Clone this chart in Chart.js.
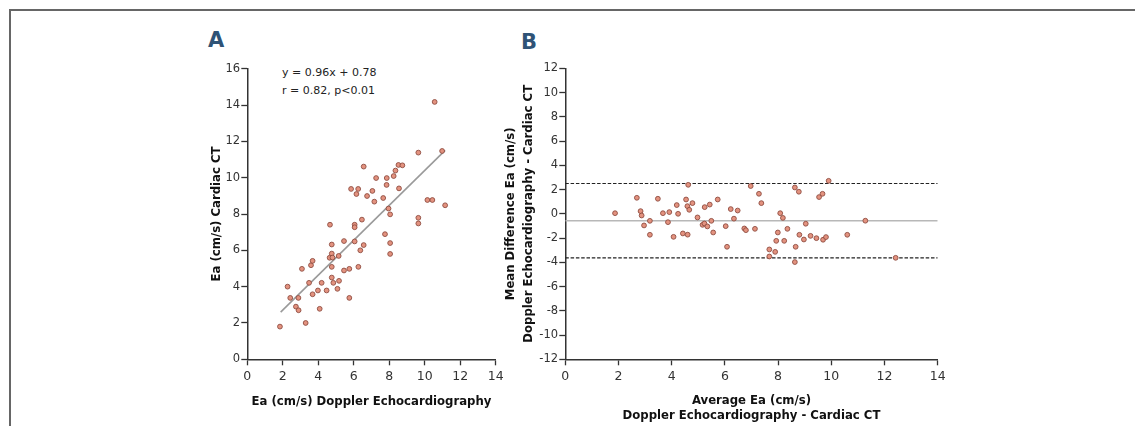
<!DOCTYPE html>
<html>
<head>
<meta charset="utf-8">
<script src="https://cdn.jsdelivr.net/npm/chart.js@4.4.1/dist/chart.umd.min.js"></script>
<style>
  html, body { margin: 0; padding: 0; background: #fff; }
  body { width: 1135px; height: 426px; position: relative; overflow: hidden; font-family: "DejaVu Sans", sans-serif; }
  .frame { position: absolute; left: 9px; top: 9px; right: -4px; bottom: -4px; border-top: 2px solid #666; border-left: 2px solid #666; }
  .panel-label { position: absolute; font-weight: bold; font-size: 21px; line-height: 1; color: #2f5376; }
  .stats { position: absolute; font-size: 11px; line-height: 18.3px; color: #222; white-space: nowrap; }
  .wrap { position: absolute; top: 0; height: 426px; }
</style>
</head>
<body>
<div class="frame"></div>
<div class="panel-label" style="left:208px; top:30px">A</div>
<div class="panel-label" style="left:521px; top:32px">B</div>
<div class="stats" style="left:282px; top:63.5px">y = 0.96x + 0.78<br>r = 0.82, p&lt;0.01</div>
<div class="wrap" style="left:180px; width:330px"><canvas id="chartA" width="330" height="426"></canvas></div>
<div class="wrap" style="left:490px; width:460px"><canvas id="chartB" width="460" height="426"></canvas></div>

<script>
// Panel A: Ea by Doppler echo (x) against Ea by cardiac CT (y)
const echoEa = [1.84, 2.27, 2.42, 2.88, 2.74, 2.89, 3.08, 3.29, 3.48, 3.59, 3.68, 3.68, 3.98, 4.08, 4.19, 4.47,
  4.66, 4.64, 4.76, 4.76, 4.80, 4.76, 4.76, 4.85, 5.08, 5.17, 5.15, 5.45, 5.45, 5.75, 5.75, 6.05, 6.05, 6.05,
  6.26, 6.37, 6.46, 6.56, 7.16, 7.76, 7.96, 8.05, 8.05, 8.05, 9.64, 9.64, 10.15, 10.43, 11.15, 10.56, 9.64,
  10.98, 6.56, 8.52, 8.74, 8.35, 7.26, 7.86, 8.25, 5.85, 6.25, 6.15, 6.75, 7.05, 7.66, 7.85, 8.55];
const ctEa = [1.80, 4.00, 3.38, 3.38, 2.90, 2.70, 4.98, 2.00, 4.21, 5.18, 5.42, 3.58, 3.79, 2.78, 4.21, 3.79,
  7.41, 5.59, 6.32, 5.82, 5.60, 5.09, 4.50, 4.21, 3.88, 4.32, 5.69, 6.51, 4.89, 4.98, 3.38, 7.41, 7.27, 6.49,
  5.09, 6.00, 7.69, 6.29, 8.68, 6.89, 8.30, 7.98, 6.40, 5.80, 7.79, 7.48, 8.77, 8.77, 8.48, 14.17, 11.38,
  11.47, 10.61, 10.70, 10.68, 10.39, 9.98, 9.98, 10.09, 9.38, 9.38, 9.10, 8.99, 9.27, 8.88, 9.60, 9.41];
// regression line ends
const fitX = [1.88, 11.15];
const fitY = [2.6, 11.5];

// Panel B: Bland-Altman, average vs difference
const avgEa = [1.87, 2.69, 2.83, 2.87, 2.96, 3.18, 3.18, 3.48, 3.67, 3.86, 3.91, 4.07, 4.19, 4.24, 4.42, 4.54,
  4.59, 4.62, 4.66, 4.60, 4.78, 4.97, 5.16, 5.23, 5.24, 5.34, 5.43, 5.49, 5.56, 5.73, 6.03, 6.08, 6.22, 6.34,
  6.48, 6.73, 6.79, 6.97, 7.13, 7.28, 7.37, 7.67, 7.67, 7.89, 7.93, 7.99, 8.08, 8.18, 8.23, 8.35, 8.63, 8.78,
  8.63, 8.66, 8.80, 8.97, 9.04, 9.22, 9.44, 9.54, 9.67, 9.69, 9.80, 9.90, 10.60, 11.28, 12.42];
const diffEa = [0.05, 1.32, 0.22, -0.14, -0.96, -0.58, -1.73, 1.24, 0.05, -0.69, 0.14, -1.90, 0.72, 0.00, -1.62,
  1.18, 0.63, 2.39, 0.33, -1.72, 0.88, -0.30, -0.91, -0.80, 0.55, -1.04, 0.76, -0.58, -1.54, 1.18, -1.02, -2.72,
  0.39, -0.40, 0.27, -1.21, -1.35, 2.29, -1.24, 1.65, 0.88, -2.94, -3.52, -3.14, -2.23, -1.54, 0.05, -0.34,
  -2.23, -1.24, 2.17, 1.82, -3.98, -2.72, -1.73, -2.12, -0.82, -1.82, -2.01, 1.38, 1.65, -2.14, -1.92, 2.72,
  -1.73, -0.57, -3.63];
const meanDiff = -0.57;
const upperLimit = 2.5;
const lowerLimit = -3.63;
const limitSpan = [0, 14];

const xTicks = [0, 2, 4, 6, 8, 10, 12, 14];
const yTicksA = [0, 2, 4, 6, 8, 10, 12, 14, 16];
const yTicksB = [-12, -10, -8, -6, -4, -2, 0, 2, 4, 6, 8, 10, 12];

const FONT = '"DejaVu Sans", sans-serif';
const AXIS = '#333';

function pts(xs, ys) {
  return xs.map((x, i) => ({ x: x, y: ys[i] }));
}

function hline(y) {
  return limitSpan.map(x => ({ x: x, y: y }));
}

function dotSet(data) {
  return {
    type: 'scatter', data: data,
    pointRadius: 2.4, pointBorderWidth: 0.9,
    pointBackgroundColor: '#e3927f', pointBorderColor: '#8e4c40'
  };
}

function lineSet(data, color, width, dash) {
  return {
    type: 'line', data: data, borderColor: color, borderWidth: width,
    borderDash: dash || [], pointRadius: 0, fill: false
  };
}

function xAxis(text, lineHeight, padBottom) {
  return {
    type: 'linear', position: 'bottom', min: 0, max: 14,
    afterBuildTicks: s => { s.ticks = xTicks.map(v => ({ value: v })); },
    afterFit: s => { s.height = 66.7; },
    border: { color: AXIS, width: 1.5 },
    grid: { drawOnChartArea: false, color: AXIS, tickLength: 6, tickWidth: 1.3 },
    ticks: { color: AXIS, padding: 4, font: { family: FONT, size: 12.5 } },
    title: {
      display: true, text: text, color: '#111',
      font: { family: FONT, size: 11.7, weight: 'bold', lineHeight: lineHeight },
      padding: { top: 0, bottom: padBottom }
    }
  };
}

function yAxis(ticks, width, text, lineHeight, padTop) {
  return {
    type: 'linear', position: 'left', min: ticks[0], max: ticks[ticks.length - 1],
    afterBuildTicks: s => { s.ticks = ticks.map(v => ({ value: v })); },
    afterFit: s => { s.width = width; },
    border: { color: AXIS, width: 1.5 },
    grid: { drawOnChartArea: false, color: AXIS, tickLength: 6, tickWidth: 1.3 },
    ticks: { color: AXIS, padding: 1.2, font: { family: FONT, size: 11.5 } },
    title: {
      display: true, text: text, color: '#111',
      font: { family: FONT, size: 11.7, weight: 'bold', lineHeight: lineHeight },
      padding: { top: padTop, bottom: 0 }
    }
  };
}

const common = {
  responsive: false,
  animation: false,
  plugins: { legend: { display: false }, tooltip: { enabled: false } }
};

new Chart(document.getElementById('chartA'), {
  type: 'scatter',
  data: {
    datasets: [
      dotSet(pts(echoEa, ctEa)),
      lineSet(pts(fitX, fitY), '#9a9a9a', 1.6)
    ]
  },
  options: Object.assign({}, common, {
    layout: { padding: { top: 68.7, right: 14.3, bottom: 0, left: 0 } },
    scales: {
      x: xAxis('Ea (cm/s) Doppler Echocardiography', 1.2, 17),
      y: yAxis(yTicksA, 67.3, 'Ea (cm/s) Cardiac CT', 1.2, 29.7)
    }
  })
});

new Chart(document.getElementById('chartB'), {
  type: 'scatter',
  data: {
    datasets: [
      dotSet(pts(avgEa, diffEa)),
      lineSet(hline(meanDiff), '#b8b8b8', 1.6),
      lineSet(hline(upperLimit), '#222', 1.2, [3.5, 1.8]),
      lineSet(hline(lowerLimit), '#222', 1.2, [3.5, 1.8])
    ]
  },
  options: Object.assign({}, common, {
    layout: { padding: { top: 68.3, right: 12.3, bottom: 0, left: 0 } },
    scales: {
      x: xAxis(['Average Ea (cm/s)', 'Doppler Echocardiography - Cardiac CT'], 1.342, 1.95),
      y: yAxis(yTicksB, 75.3, ['Mean Difference Ea (cm/s)', 'Doppler Echocardiography - Cardiac CT'], 1.513, 11.95)
    }
  })
});
</script>
</body>
</html>
